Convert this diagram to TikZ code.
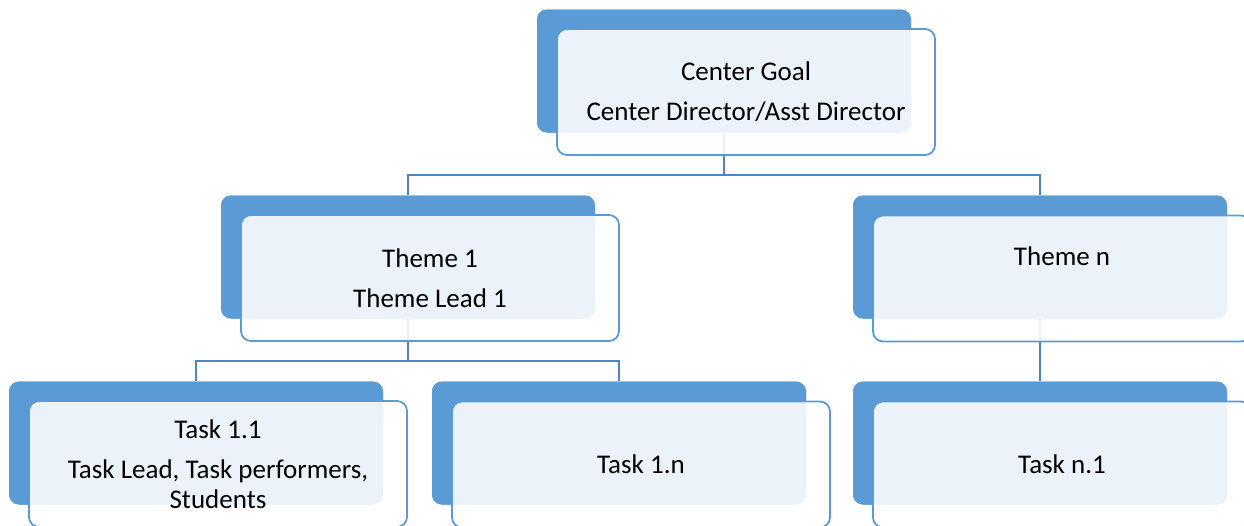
\documentclass[tikz,border=0pt]{standalone}
\usepackage{fontspec}
\setmainfont{Carlito}
\definecolor{accent}{HTML}{5B9BD5}
\definecolor{connblue}{HTML}{4F86C0}
\begin{document}
\begin{tikzpicture}[x=1pt,y=-1pt,
  backbox/.style={fill=accent, draw=none, rounded corners=10pt, minimum width=374pt, minimum height=123pt, inner sep=0pt},
  frontbox/.style={draw=accent, line width=1.8pt, fill=white, fill opacity=0.88, text opacity=1, rounded corners=10pt,
    minimum width=378pt, minimum height=126pt, inner sep=0pt, align=center,
    font=\fontsize{27}{30}\selectfont},
  conn/.style={draw=connblue, line width=2.2pt}]
\useasboundingbox (0,0) rectangle (1244,525);
\clip (0,0) rectangle (1244,525);
% junction coordinates
\coordinate (j1) at (724,175);
\coordinate (j2) at (408,361);
% back boxes (positions are centres)
\node[backbox] (cgB)  at (724,71)  {};
\node[backbox] (t1B)  at (408,257) {};
\node[backbox] (tnB)  at (1040,257) {};
\node[backbox] (t11B) at (196,443) {};
\node[backbox] (t1nB) at (619,443) {};
\node[backbox] (tn1B) at (1040,443) {};
% connectors
\draw[conn] (cgB.south) |- (t1B.north |- j1) -- (t1B.north);
\draw[conn] (cgB.south) |- (tnB.north |- j1) -- (tnB.north);
\draw[conn] (t1B.south) |- (t11B.north |- j2) -- (t11B.north);
\draw[conn] (t1B.south) |- (t1nB.north |- j2) -- (t1nB.north);
\draw[conn] (tnB.south) -- (tn1B.north);
% redraw back boxes above connectors
\node[backbox] at (cgB)  {};
\node[backbox] at (t1B)  {};
\node[backbox] at (tnB)  {};
\node[backbox] at (t11B) {};
\node[backbox] at (t1nB) {};
\node[backbox] at (tn1B) {};
% front boxes
\node[frontbox] (cgF)  at (746,92)  {Center Goal\\[10pt]Center Director/Asst Director};
\node[frontbox] (t1F)  at (430,278) {Theme 1\\[10pt]Theme Lead 1};
\node[frontbox] (tnF)  at (1062,278.5) {Theme n\\[6pt]\strut};
\node[frontbox] (t11F) at (218,464) {Task 1.1\\[10pt]Task Lead, Task performers,\\Students};
\node[frontbox] (t1nF) at (641,464.5) {Task 1.n};
\node[frontbox] (tn1F) at (1062,464.5) {Task n.1};
\end{tikzpicture}
\end{document}
